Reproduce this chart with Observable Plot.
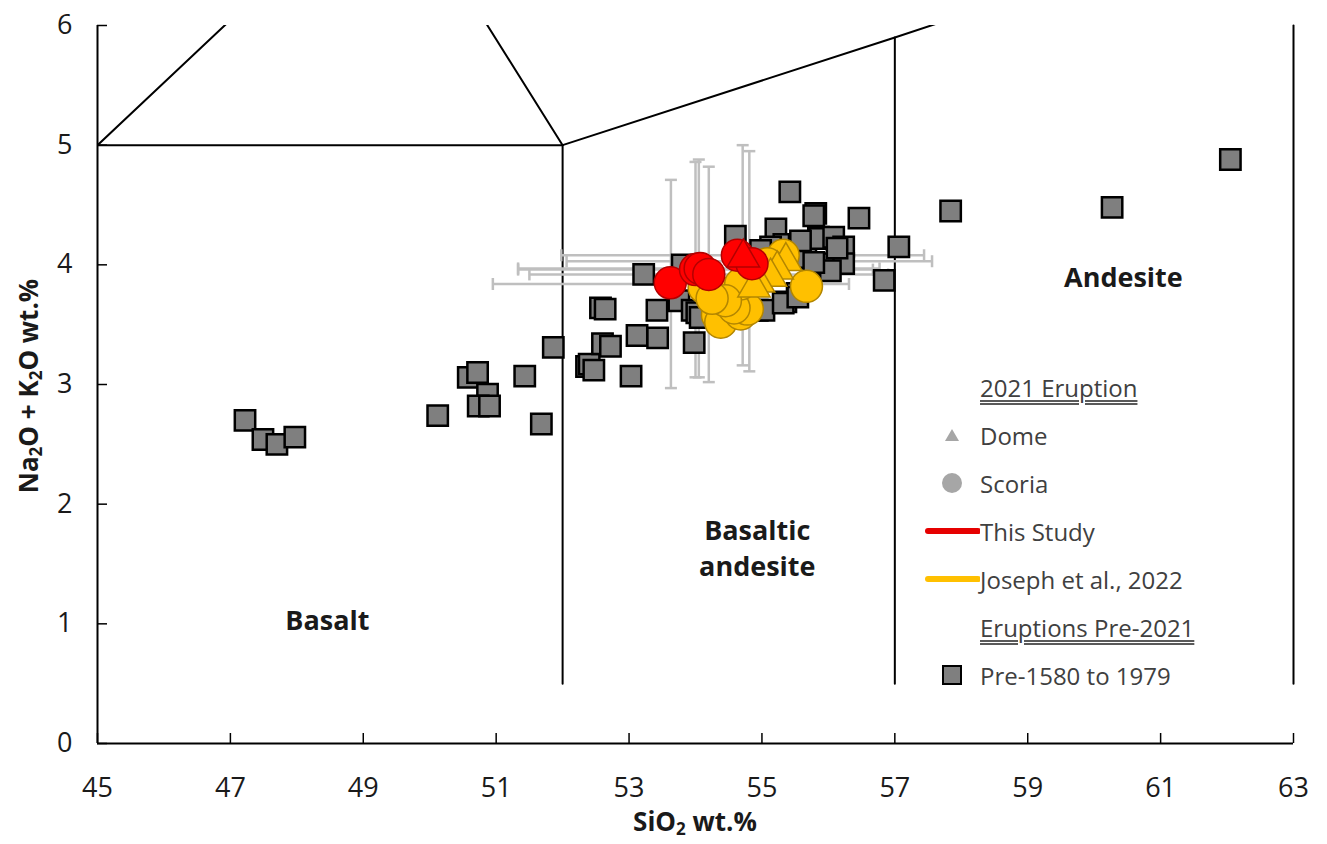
<!DOCTYPE html>
<html><head><meta charset="utf-8">
<script src="https://cdn.jsdelivr.net/npm/d3@7"></script>
<script src="https://cdn.jsdelivr.net/npm/@observablehq/plot@0.6"></script>
<style>
body{margin:0;background:#fff;font-family:"Open Sans",sans-serif;}
#wrap{position:relative;width:1327px;height:844px;overflow:hidden;}
#wrap > svg{position:absolute;left:0;top:0;}
.ttl{position:absolute;font-weight:bold;font-size:26px;line-height:30px;color:#1a1a1a;white-space:nowrap;transform:translate(-50%,-50%);}
.ttl sub{font-size:17px;vertical-align:-4px;line-height:0;}
#legend{position:absolute;left:922px;top:363px;font-size:24px;color:#404040;}
.row{height:48px;display:flex;align-items:center;}
.sw{width:58px;height:30px;flex:none;}
.hdr{text-decoration:underline double;text-decoration-color:#595959;text-underline-offset:3px;}
</style></head><body><div id="wrap"></div>
<script>
// ---- Data ----
const xTicks = [45,47,49,51,53,55,57,59,61,63];
const yTicks = [0,1,2,3,4,5,6];

// Pre-2021 eruptions (Pre-1580 to 1979)
const preSiO2 = [47.22,47.49,47.70,47.97,50.12,50.58,50.72,50.87,50.73,50.90,51.43,51.68,51.86,
  52.36,52.40,52.47,52.60,52.72,52.57,52.64,53.03,53.12,53.43,53.42,53.22,53.98,53.75,53.80,
  53.95,54.02,54.07,54.60,54.93,55.03,55.21,55.42,55.33,55.56,55.36,55.53,55.32,55.54,55.66,55.33,
  55.13,54.98,55.81,55.78,55.85,55.87,56.08,56.23,55.58,55.98,56.23,56.03,55.78,56.13,56.46,
  57.06,56.84,57.84,60.27,62.05];
const preAlk = [2.70,2.54,2.50,2.56,2.74,3.06,3.10,2.92,2.82,2.82,3.07,2.67,3.31,
  3.15,3.17,3.12,3.34,3.32,3.64,3.63,3.07,3.41,3.39,3.62,3.92,3.35,3.70,4.00,
  3.62,3.60,3.56,4.24,3.62,3.62,4.30,4.61,4.17,4.16,3.69,3.76,3.68,3.73,4.06,4.06,
  4.15,4.12,4.43,4.41,4.23,4.22,4.23,4.15,4.20,4.01,4.01,3.95,4.02,4.14,4.39,
  4.15,3.87,4.45,4.48,4.88];

// Joseph et al., 2022 (2021 eruption)
const josScoriaSiO2 = [55.67,54.33,54.38,54.68,54.78,54.58,54.33,54.68,54.13,55.32,55.08,54.45,54.25];
const josScoriaAlk  = [3.82,3.58,3.52,3.59,3.63,3.64,3.78,3.84,3.81,4.08,4.01,3.70,3.72];
const josDomeSiO2 = [55.36,55.23,55.13,54.95,54.88];
const josDomeAlk  = [4.03,3.96,3.90,3.85,3.81];

// This study (2021 eruption)
const thisScoriaSiO2 = [53.62,54.00,54.07,54.20,54.63,54.85];
const thisScoriaAlk  = [3.85,3.96,3.97,3.92,4.08,4.01];
const thisDomeSiO2 = [54.72];
const thisDomeAlk  = [4.06];

// Error bars (This study): centre and half-widths
const errSiO2 = [53.63,54.00,54.05,54.20,54.71,54.81];
const errAlk  = [3.84,3.96,3.97,3.92,4.08,4.03];
const errSiO2Half = [2.68,2.67,2.72,2.70,2.73,2.75];
const errAlkHalf  = [0.87,0.90,0.91,0.90,0.92,0.92];

// TAS field boundaries (SiO2, Na2O+K2O vertices)
const slantBoundaries = [
  [[45,5],[52,5]],
  [[45,5],[49.4,7.3]],
  [[52,5],[49.4,7.3]],
  [[52,5],[57,5.9],[63,7]]
];
const verticalBoundaries = [
  [[52,0.5],[52,5]],
  [[57,0.5],[57,5.9]],
  [[63,0.5],[63,6]]
];
const fieldLabels = [
  {x:48.46, y:1.05, text:"Basalt"},
  {x:54.93, y:1.65, text:"Basaltic\nandesite"},
  {x:60.44, y:3.91, text:"Andesite"}
];

// ---- Build tables ----
const zip = (xs, ys) => xs.map((x,i)=>({x, y: ys[i]}));
const pre = zip(preSiO2, preAlk);
const josScoria = zip(josScoriaSiO2, josScoriaAlk);
const josDome = zip(josDomeSiO2, josDomeAlk);
const thisScoria = zip(thisScoriaSiO2, thisScoriaAlk);
const thisDome = zip(thisDomeSiO2, thisDomeAlk);
const errs = errSiO2.map((x,i)=>({x, y: errAlk[i], xe: errSiO2Half[i], ye: errAlkHalf[i]}));
const toRows = segs => segs.flatMap((s,k)=>s.map(([x,y])=>({x,y,seg:k})));

const RED = "#ff0000", RED_S = "#b30000", YEL = "#ffc000", YEL_S = "#b38600";
const GREY = "#bfbfbf";
const capH = {draw(ctx){ctx.moveTo(0,-6);ctx.lineTo(0,6);}};
const capV = {draw(ctx){ctx.moveTo(-6,0);ctx.lineTo(6,0);}};

const chart = Plot.plot({
  width:1327, height:844,
  marginLeft:97, marginRight:34, marginTop:25, marginBottom:101,
  x:{domain:[45,63]}, y:{domain:[0,6]},
  style:{fontFamily:"'Open Sans', sans-serif", color:"#1a1a1a", background:"transparent"},
  marks:[
    Plot.axisX(xTicks, {tickSize:0, tickPadding:34, fontSize:27, label:null, tickFormat:d=>String(d)}),
    Plot.axisY(yTicks, {tickSize:0, tickPadding:25, fontSize:27, label:null, tickFormat:d=>String(d)}),
    Plot.ruleX(xTicks, {x:d=>d, insetTop:708, stroke:"#000", strokeWidth:1.5}),
    Plot.ruleY(yTicks, {y:d=>d, insetRight:1186, stroke:"#000", strokeWidth:1.5}),
    Plot.ruleX([45], {stroke:"#000", strokeWidth:2}),
    Plot.ruleY([0], {stroke:"#000", strokeWidth:2}),
    Plot.line(toRows(slantBoundaries), {x:"x", y:"y", z:"seg", stroke:"#000", strokeWidth:2, clip:true}),
    Plot.line(toRows(verticalBoundaries), {x:"x", y:"y", z:"seg", stroke:"#000", strokeWidth:2}),
    Plot.text(fieldLabels, {x:"x", y:"y", text:"text", fontSize:27, fontWeight:"bold", lineHeight:1.35, fill:"#1a1a1a"}),
    // error bars
    Plot.ruleY(errs, {y:"y", x1:d=>d.x-d.xe, x2:d=>d.x+d.xe, stroke:GREY, strokeWidth:2.5}),
    Plot.ruleX(errs, {x:"x", y1:d=>d.y-d.ye, y2:d=>d.y+d.ye, stroke:GREY, strokeWidth:2.5}),
    Plot.dot(errs, {x:d=>d.x-d.xe, y:"y", symbol:capH, fill:"none", stroke:GREY, strokeWidth:2.5}),
    Plot.dot(errs, {x:d=>d.x+d.xe, y:"y", symbol:capH, fill:"none", stroke:GREY, strokeWidth:2.5}),
    Plot.dot(errs, {x:"x", y:d=>d.y-d.ye, symbol:capV, fill:"none", stroke:GREY, strokeWidth:2.5}),
    Plot.dot(errs, {x:"x", y:d=>d.y+d.ye, symbol:capV, fill:"none", stroke:GREY, strokeWidth:2.5}),
    // pre-2021
    Plot.dot(pre, {x:"x", y:"y", symbol:"square", r:11.5, fill:"#7f7f7f", stroke:"#000", strokeWidth:2.5}),
    // Joseph et al.
    Plot.dot(josScoria, {x:"x", y:"y", symbol:"circle", r:16, fill:YEL, stroke:YEL_S, strokeWidth:1.5}),
    Plot.dot(josDome, {x:"x", y:"y", symbol:"triangle", r:12, fill:YEL, stroke:YEL_S, strokeWidth:1.5}),
    // This study
    Plot.dot(thisScoria, {x:"x", y:"y", symbol:"circle", r:16, fill:RED, stroke:RED_S, strokeWidth:1.5}),
    Plot.dot(thisDome, {x:"x", y:"y", symbol:"triangle", r:12, fill:RED, stroke:RED_S, strokeWidth:1.5})
  ]
});
const wrap = document.getElementById("wrap");
wrap.appendChild(chart);

// axis titles
const xt = document.createElement("div");
xt.className = "ttl"; xt.style.left = "695px"; xt.style.top = "821px";
xt.innerHTML = "SiO<sub>2</sub> wt.%";
wrap.appendChild(xt);
const yt = document.createElement("div");
yt.className = "ttl"; yt.style.left = "28px"; yt.style.top = "386px";
yt.style.transform = "translate(-50%,-50%) rotate(-90deg)";
yt.innerHTML = "Na<sub>2</sub>O + K<sub>2</sub>O wt.%";
wrap.appendChild(yt);

// legend
const legendItems = [
  {label:"2021 Eruption", kind:"header"},
  {label:"Dome", kind:"triangle"},
  {label:"Scoria", kind:"circle"},
  {label:"This Study", kind:"line", color:"#e60000"},
  {label:"Joseph et al., 2022", kind:"line", color:YEL},
  {label:"Eruptions Pre-2021", kind:"header"},
  {label:"Pre-1580 to 1979", kind:"square"}
];
const swatch = it => {
  if (it.kind==="triangle") return `<polygon points="30,9 37,21 23,21" fill="#a6a6a6"/>`;
  if (it.kind==="circle") return `<circle cx="30" cy="15" r="10" fill="#a6a6a6"/>`;
  if (it.kind==="line") return `<line x1="6" y1="15" x2="56" y2="15" stroke="${it.color}" stroke-width="6" stroke-linecap="round"/>`;
  if (it.kind==="square") return `<rect x="21" y="6" width="18" height="18" fill="#7f7f7f" stroke="#000" stroke-width="2"/>`;
  return "";
};
const lg = document.createElement("div");
lg.id = "legend";
lg.innerHTML = legendItems.map(it =>
  `<div class="row"><svg class="sw" width="58" height="30">${swatch(it)}</svg><span class="${it.kind==="header"?"hdr":""}">${it.label}</span></div>`
).join("");
wrap.appendChild(lg);
</script>
</body></html>
